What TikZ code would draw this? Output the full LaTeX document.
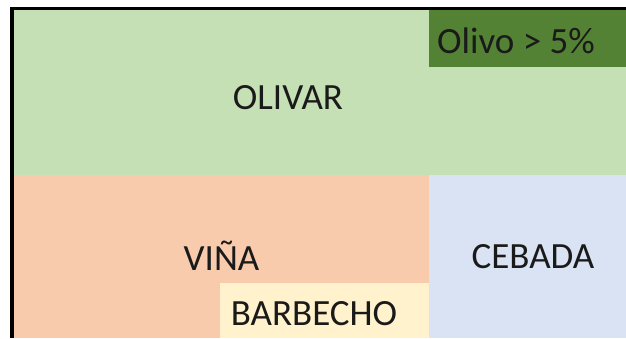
\documentclass[tikz,border=0pt]{standalone}
\usepackage{fontspec}
\setmainfont{Carlito}
\definecolor{olivar}{HTML}{C5E0B4}
\definecolor{olivo}{HTML}{548235}
\definecolor{vina}{HTML}{F8CBAD}
\definecolor{cebada}{HTML}{DAE3F3}
\definecolor{barbecho}{HTML}{FFF2CC}
\definecolor{txt}{HTML}{1A1A1A}
\tikzset{
  lbl/.style={text=txt, font=\fontsize{37}{40}\selectfont, inner sep=0pt, anchor=center},
}
\begin{document}
\begin{tikzpicture}[x=1pt,y=-1pt]
\useasboundingbox (0,0) rectangle (626,338);
\fill[white] (0,0) rectangle (626,338);
% regions
\fill[olivar] (14,10) rectangle (626,175);
\fill[olivo] (429,10) rectangle (626,67);
\fill[vina] (14,175) rectangle (429,338);
\fill[cebada] (429,175) rectangle (626,338);
\fill[barbecho] (220,283) rectangle (429,338);
% frame
\draw[black, line width=3.5pt] (12,338) -- (12,8.5) -- (626,8.5);
% labels
\node[lbl] (olivarlbl) at (288,98) {OLIVAR};
\node[lbl] (olivolbl) at (516,41) {Olivo > 5\%};
\node[lbl] (vinalbl) at (221.5,256) {VIÑA};
\node[lbl] (cebadalbl) at (533,257) {CEBADA};
\node[lbl] (barbecholbl) at (314,314) {BARBECHO};
\end{tikzpicture}
\end{document}
